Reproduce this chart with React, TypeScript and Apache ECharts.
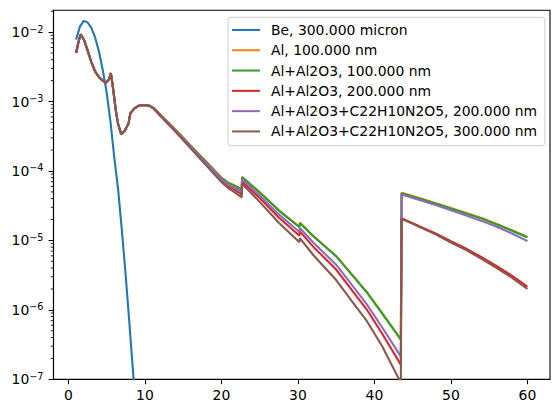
import React, { useEffect, useRef } from "react";
import * as echarts from "echarts";

// ---- data (photon energy in keV, transmitted flux) ----
const beEnergy = [1, 1.5, 2, 2.5, 3, 3.5, 4, 4.5, 5, 5.5, 6, 6.5, 7, 7.5, 8, 8.5, 9];
const beFlux = [7.8e-3, 1.2e-2, 1.45e-2, 1.38e-2, 1.15e-2, 8.3e-3, 5.2e-3, 2.8e-3, 1.35e-3, 5.1e-4, 1.55e-4, 5.4e-5, 1.35e-5, 3.0e-6, 5.8e-7, 1.07e-7, 2.0e-8];

const alEnergy = [
  1, 1.3, 1.6, 2, 2.5, 3, 3.5, 4, 4.5, 4.9, 5.3, 5.55, 5.8, 6.2, 6.5, 6.9, 7.3, 7.85, 8.1, 8.6, 9.2, 9.8, 10.6,
  11.2, 12, 14, 16, 18, 20, 20.9, 21.5, 22.65, 22.7, 25, 27.5, 30.2, 30.25, 32, 35, 37, 39, 41, 43.45, 43.55,
  46, 48, 50, 52, 54, 56, 58, 60,
];
// low-energy part, shared by all aluminium filters (curves overlap there)
const alLowFlux = [
  5.0e-3, 7.1e-3, 9.3e-3, 7.9e-3, 5.5e-3, 3.7e-3, 2.7e-3, 2.24e-3, 2.0e-3, 1.86e-3, 2.09e-3, 2.57e-3, 1.66e-3,
  7.4e-4, 4.7e-4, 3.4e-4, 3.7e-4, 4.8e-4, 6.8e-4, 7.9e-4, 8.7e-4, 8.9e-4, 8.7e-4,
];
const al100High = [
  8.05e-4, 6.56e-4, 3.95e-4, 2.32e-4, 1.37e-4, 8.06e-5, 6.78e-5, 6.4e-5, 5.45e-5, 8.25e-5, 4.97e-5, 2.73e-5,
  1.57e-5, 1.81e-5, 1.17e-5, 5.98e-6, 3.29e-6, 1.81e-6, 9.05e-7, 3.78e-7, 4.86e-5, 4.04e-5, 3.44e-5, 2.92e-5,
  2.49e-5, 2.1e-5, 1.73e-5, 1.4e-5, 1.12e-5,
];
const alOx100High = [
  7.94e-4, 6.46e-4, 3.89e-4, 2.29e-4, 1.35e-4, 7.94e-5, 6.68e-5, 6.31e-5, 5.37e-5, 8.13e-5, 4.9e-5, 2.69e-5,
  1.55e-5, 1.78e-5, 1.15e-5, 5.89e-6, 3.24e-6, 1.78e-6, 8.91e-7, 3.72e-7, 4.79e-5, 3.98e-5, 3.39e-5, 2.88e-5,
  2.45e-5, 2.07e-5, 1.7e-5, 1.38e-5, 1.1e-5,
];
const alOx200High = [
  7.83e-4, 6.31e-4, 3.76e-4, 2.19e-4, 1.26e-4, 7.33e-5, 6.03e-5, 5.56e-5, 4.62e-5, 7.08e-5, 4.07e-5, 2.14e-5,
  1.17e-5, 1.35e-5, 8.13e-6, 3.8e-6, 1.95e-6, 1.01e-6, 4.57e-7, 1.62e-7, 2.09e-5, 1.58e-5, 1.26e-5, 9.77e-6,
  7.59e-6, 5.75e-6, 4.27e-6, 3.09e-6, 2.16e-6,
];
const alOxPi200High = [
  7.89e-4, 6.38e-4, 3.82e-4, 2.24e-4, 1.3e-4, 7.59e-5, 6.31e-5, 5.89e-5, 4.95e-5, 7.59e-5, 4.42e-5, 2.37e-5,
  1.32e-5, 1.51e-5, 9.33e-6, 4.47e-6, 2.32e-6, 1.2e-6, 5.62e-7, 2.14e-7, 4.57e-5, 3.8e-5, 3.24e-5, 2.72e-5,
  2.29e-5, 1.91e-5, 1.57e-5, 1.26e-5, 9.77e-6,
];
const alOxPi300High = [
  7.76e-4, 6.24e-4, 3.67e-4, 2.11e-4, 1.21e-4, 6.92e-5, 5.62e-5, 5.13e-5, 4.17e-5, 6.53e-5, 3.59e-5, 1.8e-5,
  9.44e-6, 1.08e-5, 6.17e-6, 2.69e-6, 1.36e-6, 6.92e-7, 3.02e-7, 8.91e-8, 2.04e-5, 1.55e-5, 1.22e-5, 9.33e-6,
  7.24e-6, 5.43e-6, 3.98e-6, 2.88e-6, 2.0e-6,
];

const seriesNames = [
  "Be, 300.000 micron",
  "Al, 100.000 nm",
  "Al+Al2O3, 100.000 nm",
  "Al+Al2O3, 200.000 nm",
  "Al+Al2O3+C22H10N2O5, 200.000 nm",
  "Al+Al2O3+C22H10N2O5, 300.000 nm",
];
const seriesColors = ["#1f77b4", "#ff7f0e", "#2ca02c", "#d62728", "#9467bd", "#8c564b"];

const xTicks = [0, 10, 20, 30, 40, 50, 60];
const xRange = [-1.95, 62.95];
const yMajorExponents = [-7, -6, -5, -4, -3, -2];
const yMinorMantissas = [2, 3, 4, 5, 6, 7, 8, 9];
const yRange = [1e-7, 0.0206];

const FONT = "DejaVu Sans";

export default function App() {
  const ref = useRef<HTMLDivElement>(null);

  useEffect(() => {
    if (!ref.current) return;
    const chart = echarts.init(ref.current, undefined, { renderer: "svg" });

    const yMin = Math.log10(yRange[0]);
    const yMax = Math.log10(yRange[1]);
    const minorTicks: number[][] = [];
    yMajorExponents.forEach((e) =>
      yMinorMantissas.forEach((m) => {
        const v = Math.log10(m) + e;
        if (v > yMin && v < yMax) minorTicks.push([xRange[0], v]);
      })
    );

    const alSets = [al100High, alOx100High, alOx200High, alOxPi200High, alOxPi300High];
    const lineData = [
      beEnergy.map((x, i) => [x, Math.log10(beFlux[i])]),
      ...alSets.map((high) => {
        const flux = alLowFlux.concat(high);
        return alEnergy.map((x, i) => [x, Math.log10(flux[i])]);
      }),
    ];

    chart.setOption({
      animation: false,
      grid: {
        left: 53.5,
        right: 9,
        top: 10.3,
        bottom: 33.7,
        show: true,
        borderColor: "#000",
        borderWidth: 1.1,
        backgroundColor: "transparent",
      },
      legend: {
        orient: "vertical",
        left: 228,
        top: 17.3,
        data: seriesNames,
        icon: "rect",
        itemWidth: 28,
        itemHeight: 2,
        itemGap: 0,
        padding: [2.5, 7.7, 4, 4],
        backgroundColor: "rgba(255,255,255,0.8)",
        borderColor: "#cccccc",
        borderWidth: 1,
        borderRadius: 3,
        textStyle: {
          fontFamily: FONT,
          fontSize: 13.9,
          color: "#000",
          lineHeight: 20.3,
          padding: [0, 0, 0, 6],
        },
      },
      xAxis: {
        type: "value",
        min: xRange[0],
        max: xRange[1],
        splitLine: { show: false },
        axisLine: { show: true, onZero: false, lineStyle: { color: "#000", width: 1.1 } },
        axisTick: {
          show: true,
          customValues: xTicks,
          length: 4.9,
          lineStyle: { color: "#000", width: 1.1 },
        },
        axisLabel: {
          customValues: xTicks,
          margin: 9,
          fontFamily: FONT,
          fontSize: 13.9,
          color: "#000",
        },
      },
      yAxis: {
        type: "value",
        min: yMin,
        max: yMax,
        splitLine: { show: false },
        axisLine: { show: true, onZero: false, lineStyle: { color: "#000", width: 1.1 } },
        axisTick: {
          show: true,
          customValues: yMajorExponents,
          length: 4.9,
          lineStyle: { color: "#000", width: 1.1 },
        },
        axisLabel: {
          customValues: yMajorExponents,
          margin: 10,
          formatter: (v: number) => `{b|10}{e|\u2212${Math.abs(Math.round(v))}}`,
          rich: {
            b: { fontFamily: FONT, fontSize: 13.9, color: "#000", lineHeight: 16 },
            e: { fontFamily: FONT, fontSize: 9.7, color: "#000", lineHeight: 6, verticalAlign: "top" },
          },
        },
      },
      series: [
        ...lineData.map((data, i) => ({
          name: seriesNames[i],
          type: "line",
          data,
          showSymbol: false,
          symbol: "none",
          clip: true,
          color: seriesColors[i],
          lineStyle: { color: seriesColors[i], width: 2.08 },
        })),
        {
          name: "minor ticks",
          type: "custom",
          silent: true,
          clip: false,
          data: minorTicks,
          renderItem: (_params: any, api: any) => {
            const p = api.coord([api.value(0), api.value(1)]);
            return {
              type: "line",
              shape: { x1: p[0] - 2.8, y1: p[1], x2: p[0], y2: p[1] },
              style: { stroke: "#000", lineWidth: 0.84 },
            };
          },
        },
      ],
    });

    return () => chart.dispose();
  }, []);

  return (
    <div
      ref={ref}
      style={{ position: "absolute", left: 0, top: 0, width: 559, height: 413, background: "#fff" }}
    />
  );
}
